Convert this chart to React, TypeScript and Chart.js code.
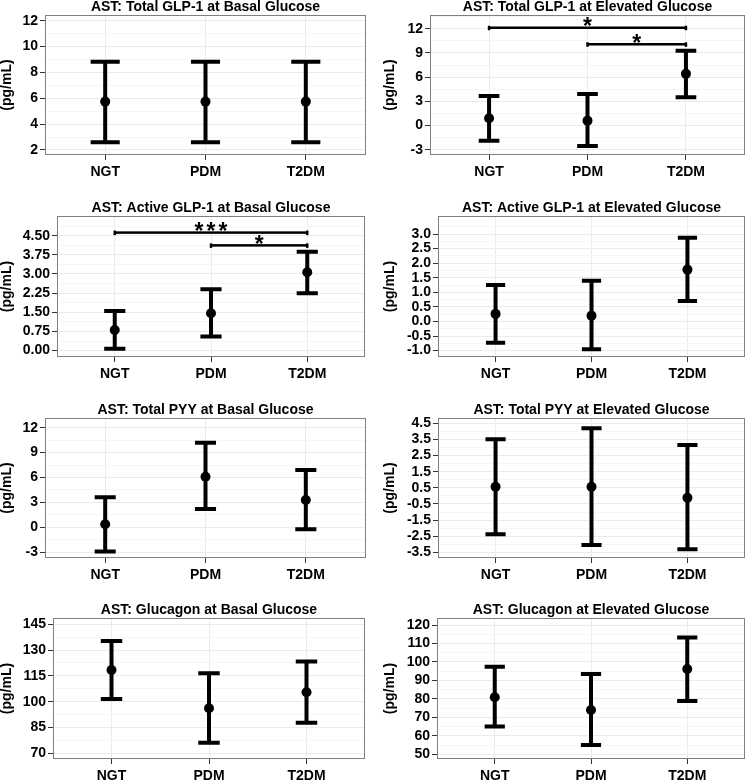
import React, { useEffect, useRef } from 'react';
import { Chart, registerables } from 'chart.js';

Chart.register(...registerables);

const FONT = '"Liberation Sans", Arial, Helvetica, sans-serif';
Chart.defaults.font.family = FONT;

// ---------- data ----------
const categories = ['NGT', 'PDM', 'T2DM'];
const yAxisTitle = '(pg/mL)';

const totalGlp1BasalMean = [5.74, 5.74, 5.74];
const totalGlp1BasalLow = [2.6, 2.6, 2.6];
const totalGlp1BasalHigh = [8.83, 8.83, 8.83];
const totalGlp1BasalTicks = ['2', '4', '6', '8', '10', '12'];

const totalGlp1ElevMean = [0.9, 0.6, 6.4];
const totalGlp1ElevLow = [-1.88, -2.53, 3.5];
const totalGlp1ElevHigh = [3.66, 3.9, 9.27];
const totalGlp1ElevTicks = ['-3', '0', '3', '6', '9', '12'];
const totalGlp1ElevSig = [
  { from: 0, to: 2, y: 12.12, label: '*' },
  { from: 1, to: 2, y: 10.07, label: '*' },
];

const activeGlp1BasalMean = [0.81, 1.46, 3.07];
const activeGlp1BasalLow = [0.07, 0.55, 2.25];
const activeGlp1BasalHigh = [1.55, 2.4, 3.87];
const activeGlp1BasalTicks = ['0.00', '0.75', '1.50', '2.25', '3.00', '3.75', '4.50'];
const activeGlp1BasalSig = [
  { from: 0, to: 2, y: 4.62, label: '***' },
  { from: 1, to: 2, y: 4.12, label: '*' },
];

const activeGlp1ElevMean = [0.26, 0.2, 1.78];
const activeGlp1ElevLow = [-0.73, -0.95, 0.7];
const activeGlp1ElevHigh = [1.25, 1.4, 2.87];
const activeGlp1ElevTicks = ['-1.0', '-0.5', '0.0', '0.5', '1.0', '1.5', '2.0', '2.5', '3.0'];

const totalPyyBasalMean = [0.38, 6.1, 3.3];
const totalPyyBasalLow = [-2.92, 2.22, -0.23];
const totalPyyBasalHigh = [3.62, 10.2, 6.91];
const totalPyyBasalTicks = ['-3', '0', '3', '6', '9', '12'];

const totalPyyElevMean = [0.57, 0.57, -0.11];
const totalPyyElevLow = [-2.37, -3.05, -3.31];
const totalPyyElevHigh = [3.51, 4.19, 3.15];
const totalPyyElevTicks = ['-3.5', '-2.5', '-1.5', '-0.5', '0.5', '1.5', '2.5', '3.5', '4.5'];

const glucagonBasalMean = [118.4, 96.2, 105.5];
const glucagonBasalLow = [101.6, 76.2, 87.8];
const glucagonBasalHigh = [135.3, 116.5, 123.3];
const glucagonBasalTicks = ['70', '85', '100', '115', '130', '145'];

const glucagonElevMean = [80.9, 74, 96.2];
const glucagonElevLow = [65, 55, 78.9];
const glucagonElevHigh = [97.4, 93.5, 113.3];
const glucagonElevTicks = ['50', '60', '70', '80', '90', '100', '110', '120'];

// ---------- panel setup (layout / axis ranges) ----------
type Sig = { from: number; to: number; y: number; label: string };
type Panel = {
  title: string;
  mean: number[];
  low: number[];
  high: number[];
  ticks: string[];
  sig: Sig[];
  yMin: number;
  yMax: number;
  cap: number;
  col: number;
  left: number;
  right: number;
  top: number;
  bottom: number;
};

const panels: Panel[] = [
  { title: 'AST: Total GLP-1 at Basal Glucose', mean: totalGlp1BasalMean, low: totalGlp1BasalLow, high: totalGlp1BasalHigh, ticks: totalGlp1BasalTicks, sig: [], yMin: 1.61, yMax: 12.44, cap: 0.29, col: 0, left: 45, right: 366, top: 15, bottom: 155 },
  { title: 'AST: Total GLP-1 at Elevated Glucose', mean: totalGlp1ElevMean, low: totalGlp1ElevLow, high: totalGlp1ElevHigh, ticks: totalGlp1ElevTicks, sig: totalGlp1ElevSig, yMin: -3.66, yMax: 13.7, cap: 0.21, col: 375, left: 430, right: 749, top: 15, bottom: 155 },
  { title: 'AST: Active GLP-1 at Basal Glucose', mean: activeGlp1BasalMean, low: activeGlp1BasalLow, high: activeGlp1BasalHigh, ticks: activeGlp1BasalTicks, sig: activeGlp1BasalSig, yMin: -0.25, yMax: 5.27, cap: 0.22, col: 0, left: 57, right: 365, top: 216, bottom: 357 },
  { title: 'AST: Active GLP-1 at Elevated Glucose', mean: activeGlp1ElevMean, low: activeGlp1ElevLow, high: activeGlp1ElevHigh, ticks: activeGlp1ElevTicks, sig: [], yMin: -1.22, yMax: 3.62, cap: 0.2, col: 375, left: 438, right: 749, top: 216, bottom: 357 },
  { title: 'AST: Total PYY at Basal Glucose', mean: totalPyyBasalMean, low: totalPyyBasalLow, high: totalPyyBasalHigh, ticks: totalPyyBasalTicks, sig: [], yMin: -3.69, yMax: 13.17, cap: 0.21, col: 0, left: 45, right: 366, top: 418, bottom: 558 },
  { title: 'AST: Total PYY at Elevated Glucose', mean: totalPyyElevMean, low: totalPyyElevLow, high: totalPyyElevHigh, ticks: totalPyyElevTicks, sig: [], yMin: -3.85, yMax: 4.83, cap: 0.21, col: 375, left: 438, right: 749, top: 418, bottom: 558 },
  { title: 'AST: Glucagon at Basal Glucose', mean: glucagonBasalMean, low: glucagonBasalLow, high: glucagonBasalHigh, ticks: glucagonBasalTicks, sig: [], yMin: 66.69, yMax: 148.66, cap: 0.22, col: 0, left: 53, right: 365, top: 618, bottom: 759 },
  { title: 'AST: Glucagon at Elevated Glucose', mean: glucagonElevMean, low: glucagonElevLow, high: glucagonElevHigh, ticks: glucagonElevTicks, sig: [], yMin: 47.46, yMax: 123.79, cap: 0.21, col: 375, left: 437, right: 749, top: 618, bottom: 759 },
];

const PAD_TOP = 16;
const X_H = 26;
const PAD_BOTTOM = 4;
const COL_W = 375;

const GRID_MAJOR = '#EBEBEB';
const GRID_MINOR = '#F6F6F6';
const TICK_COLOR = '#333333';
const FRAME_COLOR = '#7F7F7F';

function buildYTicks(labels: string[], min: number, max: number) {
  const vals = labels.map(Number);
  const step = vals[1] - vals[0];
  const out: any[] = [];
  const first = vals[0] - step / 2;
  if (first >= min) out.push({ value: first, minor: true, txt: '' });
  vals.forEach((v, i) => {
    out.push({ value: v, minor: false, txt: labels[i] });
    const m = v + step / 2;
    if (m <= max) out.push({ value: m, minor: true, txt: '' });
  });
  return out;
}

const panelDecor = {
  id: 'panelDecor',
  beforeDatasetsDraw(chart: any, _args: any, opts: any) {
    const ctx = chart.ctx;
    const xs = chart.scales.x;
    const ys = chart.scales.y;
    const low: number[] = opts.low;
    const high: number[] = opts.high;
    const half = opts.cap / 2;
    ctx.save();
    ctx.strokeStyle = '#000';
    ctx.lineWidth = 4;
    ctx.lineCap = 'butt';
    for (let i = 0; i < low.length; i++) {
      const x = xs.getPixelForValue(i + 1);
      const hw = xs.getPixelForValue(i + 1 + half) - x;
      const yl = ys.getPixelForValue(low[i]);
      const yh = ys.getPixelForValue(high[i]);
      ctx.beginPath();
      ctx.moveTo(x, yl);
      ctx.lineTo(x, yh);
      ctx.moveTo(x - hw, yl);
      ctx.lineTo(x + hw, yl);
      ctx.moveTo(x - hw, yh);
      ctx.lineTo(x + hw, yh);
      ctx.stroke();
    }
    ctx.restore();
  },
  afterDatasetsDraw(chart: any, _args: any, opts: any) {
    const ctx = chart.ctx;
    const xs = chart.scales.x;
    const ys = chart.scales.y;
    const sig: Sig[] = opts.sig || [];
    ctx.save();
    ctx.fillStyle = '#000';
    sig.forEach((s) => {
      const x1 = xs.getPixelForValue(s.from + 1);
      const x2 = xs.getPixelForValue(s.to + 1);
      const y = ys.getPixelForValue(s.y);
      ctx.fillRect(x1, y - 1.25, x2 - x1, 2.5);
      ctx.fillRect(x1 - 1.25, y - 2, 2.5, 4.5);
      ctx.fillRect(x2 - 1.25, y - 2, 2.5, 4.5);
      ctx.font = `bold 23px ${FONT}`;
      ctx.textBaseline = 'alphabetic';
      ctx.textAlign = 'center';
      const chars = s.label.split('');
      const adv = ctx.measureText('*').width + 3;
      const cx = (x1 + x2) / 2;
      const start = cx - ((chars.length - 1) * adv) / 2;
      chars.forEach((c, k) => ctx.fillText(c, start + k * adv, y + 6.5));
    });
    ctx.restore();
  },
  afterDraw(chart: any, _args: any, opts: any) {
    const ctx = chart.ctx;
    const ca = chart.chartArea;
    ctx.save();
    ctx.strokeStyle = FRAME_COLOR;
    ctx.lineWidth = 1;
    ctx.strokeRect(ca.left + 0.5, ca.top + 0.5, ca.right - ca.left - 1, ca.bottom - ca.top - 1);
    ctx.fillStyle = '#000';
    ctx.font = `bold 14px ${FONT}`;
    ctx.textAlign = 'center';
    ctx.textBaseline = 'alphabetic';
    ctx.fillText(opts.title, (ca.left + ca.right) / 2, ca.top - 4.5);
    ctx.restore();
  },
};

function PanelChart({ p }: { p: Panel }) {
  const ref = useRef<HTMLCanvasElement | null>(null);
  const padLeft = p.col === 0 ? 0 : 8;
  const yW = p.left - p.col - padLeft;
  const padRight = p.col + COL_W - p.right;
  const height = PAD_TOP + (p.bottom - p.top) + X_H + PAD_BOTTOM;
  const canvasTop = p.top - PAD_TOP;

  useEffect(() => {
    if (!ref.current) return;
    const yTicks = buildYTicks(p.ticks, p.yMin, p.yMax);
    const chart = new Chart(ref.current, {
      type: 'scatter',
      data: {
        datasets: [
          {
            data: categories.map((_, i) => ({ x: i + 1, y: p.mean[i] })),
            pointRadius: 5,
            pointHoverRadius: 5,
            pointBackgroundColor: '#000',
            pointBorderWidth: 0,
            showLine: false,
          },
        ],
      },
      options: {
        animation: false,
        responsive: false,
        events: [],
        layout: { padding: { top: PAD_TOP, left: padLeft, right: padRight, bottom: PAD_BOTTOM } },
        plugins: {
          legend: { display: false },
          tooltip: { enabled: false },
          title: { display: false },
          panelDecor: { title: p.title, low: p.low, high: p.high, cap: p.cap, sig: p.sig },
        } as any,
        scales: {
          x: {
            type: 'linear',
            min: 0.4,
            max: 3.6,
            bounds: 'data',
            afterBuildTicks: (s: any) => {
              s.ticks = categories.map((_, i) => ({ value: i + 1 }));
            },
            afterFit: (s: any) => {
              s.height = X_H;
            },
            ticks: {
              autoSkip: false,
              maxRotation: 0,
              padding: 3.5,
              color: '#000',
              font: { family: FONT, size: 14, weight: 'bold' },
              callback: (v: any) => categories[Math.round(Number(v)) - 1] ?? '',
            },
            grid: { color: GRID_MAJOR, tickColor: TICK_COLOR, tickLength: 5, lineWidth: 1 },
            border: { display: false },
          },
          y: {
            type: 'linear',
            min: p.yMin,
            max: p.yMax,
            bounds: 'data',
            afterBuildTicks: (s: any) => {
              s.ticks = yTicks.map((t) => ({ ...t }));
            },
            afterFit: (s: any) => {
              s.width = yW;
            },
            ticks: {
              autoSkip: false,
              padding: 2,
              color: '#000',
              font: { family: FONT, size: 14, weight: 'bold' },
              callback: (_v: any, i: number, ts: any[]) => (ts[i] && ts[i].txt) || '',
            },
            grid: {
              color: (c: any) => (c.tick && c.tick.minor ? GRID_MINOR : GRID_MAJOR),
              tickColor: (c: any) => (c.tick && c.tick.minor ? 'rgba(0,0,0,0)' : TICK_COLOR),
              tickLength: 5,
              lineWidth: 1,
            },
            border: { display: false },
            title: {
              display: true,
              text: yAxisTitle,
              color: '#000',
              font: { family: FONT, size: 14, weight: 'bold', lineHeight: 1 },
              padding: 0,
            },
          },
        },
      } as any,
      plugins: [panelDecor as any],
    });
    return () => chart.destroy();
  }, [p]);

  return (
    <canvas
      ref={ref}
      width={COL_W}
      height={height}
      style={{ position: 'absolute', left: p.col, top: canvasTop, width: COL_W, height }}
    />
  );
}

export default function App() {
  return (
    <div
      style={{
        position: 'absolute',
        left: 0,
        top: 0,
        width: 750,
        height: 780,
        overflow: 'hidden',
        background: '#fff',
      }}
    >
      {panels.map((p, i) => (
        <PanelChart key={i} p={p} />
      ))}
    </div>
  );
}
